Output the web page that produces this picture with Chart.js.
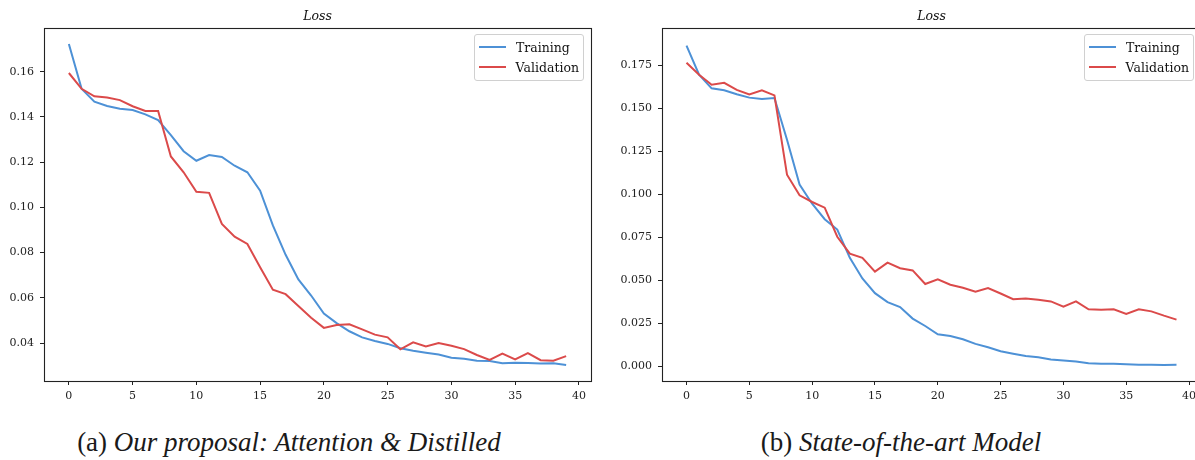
<!DOCTYPE html>
<html>
<head>
<meta charset="utf-8">
<script src="https://cdn.jsdelivr.net/npm/chart.js@4.4.1/dist/chart.umd.min.js"></script>
<style>
  html, body { margin: 0; padding: 0; background: #fff; }
  #wrap { position: relative; width: 1195px; height: 460px; overflow: hidden; background: #fff; }
  canvas { position: absolute; top: 0; }
  .ttl { position: absolute; top: 15px; transform: translate(-50%, -50%); font-family: "DejaVu Serif", serif; font-style: italic; font-size: 12.5px; color: #111; white-space: nowrap; }
  .cap { position: absolute; top: 442px; transform: translate(-50%, -50%); font-family: "Liberation Serif", "Times New Roman", serif; font-size: 27px; color: #1a1a1a; white-space: nowrap; }
  .cap i { font-style: italic; }
  .leg { position: absolute; border: 1px solid #d0d0d0; border-radius: 3px; background: rgba(255,255,255,0.85); font-family: "DejaVu Serif", serif; font-size: 12.5px; color: #111; padding: 2px 4px 3px 4px; box-sizing: border-box; }
  .leg .row { display: flex; align-items: center; height: 20px; }
  .leg .sw { width: 27px; height: 2px; margin-right: 10px; }
</style>
</head>
<body>
<div id="wrap">
  <canvas id="c1" width="600" height="400" style="left:0px;width:600px;height:400px"></canvas>
  <canvas id="c2" width="610" height="400" style="left:600px;width:610px;height:400px"></canvas>
  <div class="ttl" id="t1">Loss</div>
  <div class="ttl" id="t2">Loss</div>
  <div class="cap" style="left:289px">(a) <i>Our proposal: Attention &amp; Distilled</i></div>
  <div class="cap" style="left:901px">(b) <i>State-of-the-art Model</i></div>
</div>
<script>
const epochs = [0,1,2,3,4,5,6,7,8,9,10,11,12,13,14,15,16,17,18,19,20,21,22,23,24,25,26,27,28,29,30,31,32,33,34,35,36,37,38,39];
const seriesNames = ["Training", "Validation"];
const seriesColors = ["#4d91d6", "#db4a4a"];

const trainA = [0.1722,0.1524,0.1467,0.1448,0.1436,0.1430,0.1411,0.1386,0.1319,0.1248,
                0.1206,0.1231,0.1223,0.1184,0.1155,0.1074,0.0920,0.0790,0.0681,0.0610,
                0.0530,0.0488,0.0452,0.0425,0.0409,0.0396,0.0377,0.0366,0.0357,0.0349,
                0.0335,0.0330,0.0322,0.0320,0.0311,0.0313,0.0312,0.0309,0.0310,0.0303];
const validA = [0.1594,0.1524,0.1491,0.1486,0.1474,0.1447,0.1426,0.1426,0.1225,0.1155,
                0.1069,0.1064,0.0927,0.0870,0.0838,0.0735,0.0636,0.0616,0.0564,0.0512,
                0.0467,0.0480,0.0483,0.0460,0.0437,0.0425,0.0372,0.0403,0.0385,0.0400,
                0.0388,0.0373,0.0347,0.0325,0.0353,0.0328,0.0355,0.0324,0.0322,0.0342];
const trainB = [0.1865,0.1695,0.1616,0.1605,0.1582,0.1562,0.1554,0.1560,0.1317,0.1056,
                0.0945,0.0855,0.0795,0.0630,0.0510,0.0425,0.0373,0.0344,0.0277,0.0234,
                0.0186,0.0176,0.0157,0.0130,0.0110,0.0087,0.0073,0.0060,0.0052,0.0039,
                0.0033,0.0027,0.0017,0.0014,0.0014,0.0012,0.0009,0.0008,0.0007,0.0008];
const validB = [0.1765,0.1695,0.1637,0.1648,0.1607,0.1580,0.1605,0.1575,0.1114,0.0994,
                0.0955,0.0922,0.0753,0.0655,0.0630,0.0550,0.0602,0.0570,0.0557,0.0478,
                0.0505,0.0474,0.0456,0.0433,0.0454,0.0423,0.0390,0.0394,0.0386,0.0377,
                0.0346,0.0377,0.0331,0.0329,0.0331,0.0304,0.0331,0.0319,0.0294,0.0271];

const xTicks = [0,5,10,15,20,25,30,35,40];
const yTicksA = [0.04,0.06,0.08,0.10,0.12,0.14,0.16];
const yTicksB = [0.000,0.025,0.050,0.075,0.100,0.125,0.150,0.175];

const tickFont = { family: "'DejaVu Serif', serif", size: 11 };

const framePlugin = {
  id: 'frame',
  afterDatasetsDraw(chart) {
    const a = chart.chartArea, ctx = chart.ctx;
    ctx.save();
    ctx.strokeStyle = '#222';
    ctx.lineWidth = 1.1;
    const l = Math.round(a.left) + 0.5, t = Math.round(a.top) + 0.5;
    const r = Math.round(a.right) + 0.5, b = Math.round(a.bottom) + 0.5;
    ctx.strokeRect(l, t, r - l, b - t);
    ctx.restore();
  }
};

function makeChart(id, train, valid, yTicks, yDec, yMin, yMax, yAxisW, padRight) {
  const ds = [train, valid].map((vals, k) => ({
    label: seriesNames[k],
    data: epochs.map((e, i) => ({ x: e, y: vals[i] })),
    borderColor: seriesColors[k],
    backgroundColor: seriesColors[k],
    borderWidth: 2,
    pointRadius: 0,
    tension: 0,
    fill: false,
    order: k === 0 ? 1 : 0
  }));
  return new Chart(document.getElementById(id), {
    type: 'line',
    data: { datasets: ds },
    options: {
      responsive: false,
      animation: false,
      devicePixelRatio: 1,
      layout: { padding: { left: 0, top: 28, right: padRight, bottom: 0 } },
      plugins: { legend: { display: false }, title: { display: false }, tooltip: { enabled: false } },
      scales: {
        x: {
          type: 'linear', min: -1.95, max: 40.95,
          afterBuildTicks: s => { s.ticks = xTicks.map(v => ({ value: v })); },
          afterFit: s => { s.height = 19; },
          grid: { drawOnChartArea: false, drawTicks: true, tickLength: 4, color: '#222', tickWidth: 1 },
          border: { display: false },
          ticks: { font: tickFont, color: '#222', padding: 5, maxRotation: 0, autoSkip: false, callback: v => String(v) }
        },
        y: {
          type: 'linear', min: yMin, max: yMax,
          afterBuildTicks: s => { s.ticks = yTicks.map(v => ({ value: v })); },
          afterFit: s => { s.width = yAxisW; },
          grid: { drawOnChartArea: false, drawTicks: true, tickLength: 4, color: '#222', tickWidth: 1 },
          border: { display: false },
          ticks: { font: tickFont, color: '#222', padding: 6, autoSkip: false, callback: v => Number(v).toFixed(yDec) }
        }
      }
    },
    plugins: [framePlugin]
  });
}

function addLegend(chart, canvasLeft, width, gap) {
  const a = chart.chartArea;
  const box = document.createElement('div');
  box.className = 'leg';
  box.style.width = width + 'px';
  box.style.left = (canvasLeft + a.right - gap - width) + 'px';
  box.style.top = (a.top + 6) + 'px';
  chart.data.datasets.forEach(d => {
    const row = document.createElement('div');
    row.className = 'row';
    const sw = document.createElement('span');
    sw.className = 'sw';
    sw.style.background = d.borderColor;
    const tx = document.createElement('span');
    tx.textContent = d.label;
    row.appendChild(sw); row.appendChild(tx);
    box.appendChild(row);
  });
  document.getElementById('wrap').appendChild(box);
}

const chA = makeChart('c1', trainA, validA, yTicksA, 2, 0.0232, 0.1793, 44, 9);
const chB = makeChart('c2', trainB, validB, yTicksB, 3, -0.0086, 0.1967, 62, 9);

document.getElementById('t1').style.left = ((chA.chartArea.left + chA.chartArea.right) / 2) + 'px';
document.getElementById('t2').style.left = (600 + (chB.chartArea.left + chB.chartArea.right) / 2) + 'px';

addLegend(chA, 0, 110, 7);
addLegend(chB, 600, 110, 7);
</script>
</body>
</html>
